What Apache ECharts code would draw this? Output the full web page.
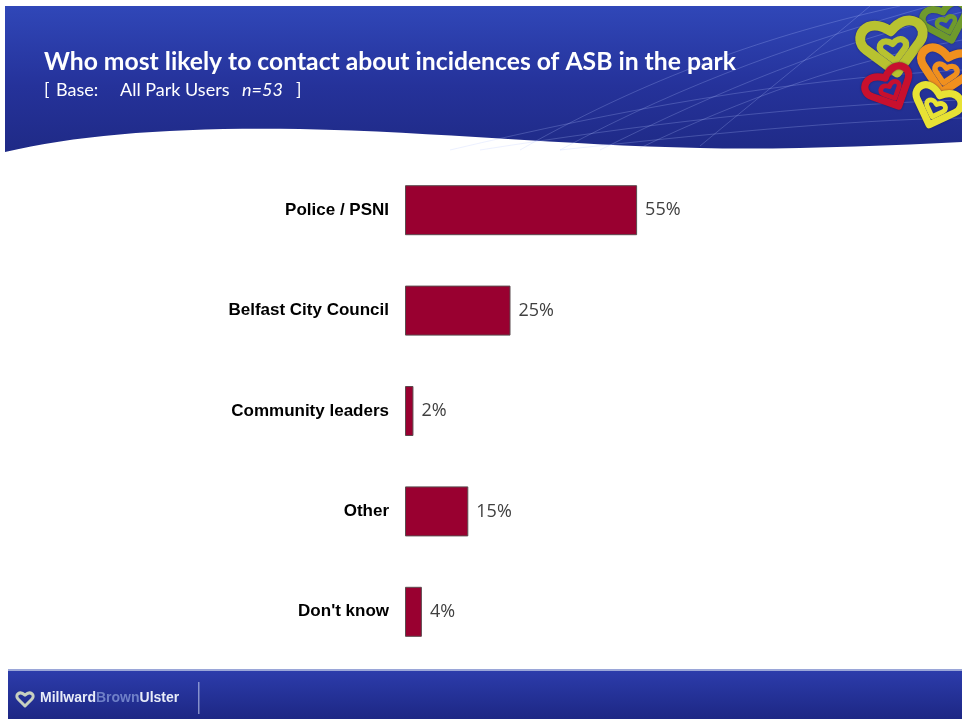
<!DOCTYPE html>
<html>
<head>
<meta charset="utf-8">
<script src="https://cdn.jsdelivr.net/npm/echarts@6/dist/echarts.min.js"></script>
<style>
  html, body { margin: 0; padding: 0; background: #ffffff; }
  #chart { width: 962px; height: 719px; }
</style>
</head>
<body>
<div id="chart"></div>
<script>
// Survey answers: who park users would contact about anti-social behaviour
const categories = ['Police / PSNI', 'Belfast City Council', 'Community leaders', 'Other', "Don't know"];
const shares = [55, 25, 2, 15, 4];

const titleText = 'Who most likely to contact about incidences of ASB in the park';
const baseLabel = 'Base:';
const baseGroup = 'All Park Users';
const baseN = 'n=53';

// simple command-list path shape (M / L / C / Z)
echarts.graphic.registerShape('cmdPath', echarts.graphic.extendShape({
  shape: { cmds: [] },
  buildPath: function (ctx, shape) {
    shape.cmds.forEach(function (c) {
      if (c[0] === 'M') ctx.moveTo(c[1], c[2]);
      else if (c[0] === 'L') ctx.lineTo(c[1], c[2]);
      else if (c[0] === 'C') ctx.bezierCurveTo(c[1], c[2], c[3], c[4], c[5], c[6]);
      else if (c[0] === 'Z') ctx.closePath();
    });
  }
}));

const chart = echarts.init(document.getElementById('chart'), null, { renderer: 'canvas' });

// heart outline used in the corner emblem
function heartCmds(cx, cy, s) {
  return [
    ['M', cx, cy + s],
    ['L', cx - s, cy],
    ['C', cx - s * 1.5, cy - s * 0.5, cx - s * 0.8, cy - s * 1.3, cx, cy - s * 0.55],
    ['C', cx + s * 0.8, cy - s * 1.3, cx + s * 1.5, cy - s * 0.5, cx + s, cy],
    ['Z']
  ];
}
function heart(cx, cy, s, color, rot, z) {
  return {
    type: 'group', x: cx, y: cy, rotation: rot || 0,
    children: [
      { type: 'cmdPath', z: z, shape: { cmds: heartCmds(0, 0, s) },
        style: { fill: null, stroke: color, lineWidth: s * 0.36, lineJoin: 'round',
                 shadowColor: 'rgba(20,20,60,0.6)', shadowBlur: 2 } },
      { type: 'cmdPath', z: z, shape: { cmds: heartCmds(0, s * 0.15, s * 0.42) },
        style: { fill: null, stroke: color, lineWidth: s * 0.24, lineJoin: 'round' } }
    ]
  };
}

// swooping light strands across the banner
const strands = [];
const strandDefs = [
  [520, 150, 660, 70, 790, 30, 900, 6],
  [560, 150, 690, 80, 810, 40, 930, 6],
  [600, 150, 720, 90, 830, 45, 962, 12],
  [640, 148, 740, 100, 850, 60, 962, 40],
  [480, 150, 640, 125, 800, 105, 962, 100],
  [560, 150, 700, 135, 840, 120, 962, 118],
  [700, 146, 780, 80, 830, 40, 870, 6],
  [450, 150, 620, 110, 780, 80, 962, 70]
];
strandDefs.forEach(function (d) {
  strands.push({
    type: 'bezierCurve', z: 2,
    shape: { x1: d[0], y1: d[1], cpx1: d[2], cpy1: d[3], cpx2: d[4], cpy2: d[5], x2: d[6], y2: d[7] },
    style: { stroke: 'rgba(180,195,255,0.25)', lineWidth: 1, fill: null }
  });
});

const white = '#ffffff';
const subFont = '18px Lato, sans-serif';

const option = {
  backgroundColor: '#ffffff',
  animation: false,
  graphic: [
    // banner
    {
      type: 'cmdPath', z: 1,
      shape: { cmds: [
        ['M', 5, 6], ['L', 962, 6], ['L', 962, 142],
        ['C', 880, 146, 780, 150, 700, 148],
        ['C', 560, 145, 440, 132, 300, 129],
        ['C', 180, 127, 80, 134, 5, 152], ['Z']
      ] },
      style: {
        fill: new echarts.graphic.LinearGradient(0, 0, 0, 1, [
          { offset: 0, color: '#3047b8' },
          { offset: 0.55, color: '#25329a' },
          { offset: 1, color: '#1f2a86' }
        ])
      }
    },
    // corner emblem clip: keep it inside the banner
    {
      type: 'group', x: 0, y: 0,
      children: []
    }
  ].concat(strands).concat([
    heart(946, 22, 19, '#6f9a2c', 0.3, 5),
    heart(893, 46, 27, '#b8c230', 0.15, 6),
    heart(946, 70, 23, '#f0901e', -0.2, 7),
    heart(890, 88, 20, '#c8102e', 0.45, 8),
    heart(936, 106, 20, '#e8e234', -0.35, 9),
    {
      type: 'rect', z: 10,
      shape: { x: 820, y: 0, width: 142, height: 6 },
      style: { fill: '#ffffff' }
    },
    {
      type: 'text', x: 44, y: 62, z: 10,
      style: { text: titleText, fill: white, font: 'bold 24.7px Lato, sans-serif', verticalAlign: 'middle' }
    },
    { type: 'text', x: 44, y: 90, z: 10, style: { text: '[', fill: white, font: subFont, verticalAlign: 'middle' } },
    { type: 'text', x: 56, y: 90, z: 10, style: { text: baseLabel, fill: white, font: subFont, verticalAlign: 'middle' } },
    { type: 'text', x: 120, y: 90, z: 10, style: { text: baseGroup, fill: white, font: subFont, verticalAlign: 'middle' } },
    { type: 'text', x: 242, y: 90, z: 10, style: { text: baseN, fill: white, font: 'italic ' + subFont, verticalAlign: 'middle' } },
    { type: 'text', x: 296, y: 90, z: 10, style: { text: ']', fill: white, font: subFont, verticalAlign: 'middle' } },
    // footer bar
    {
      type: 'rect', z: 1,
      shape: { x: 8, y: 669, width: 954, height: 2 },
      style: { fill: '#9aa6d8' }
    },
    {
      type: 'rect', z: 1,
      shape: { x: 8, y: 671, width: 954, height: 48 },
      style: {
        fill: new echarts.graphic.LinearGradient(0, 0, 0, 1, [
          { offset: 0, color: '#2c3cab' },
          { offset: 1, color: '#1d2784' }
        ])
      }
    },
    {
      type: 'rect', z: 2,
      shape: { x: 198, y: 682, width: 1.5, height: 32 },
      style: { fill: 'rgba(200,210,240,0.6)' }
    },
    {
      type: 'cmdPath', z: 3,
      shape: { cmds: heartCmds(25, 699, 7) },
      style: { fill: null, stroke: '#c8d0c0', lineWidth: 3, lineJoin: 'round' }
    },
    {
      type: 'text', x: 40, y: 698, z: 3,
      style: {
        text: '{a|Millward}{b|Brown}{a|Ulster}', verticalAlign: 'middle',
        rich: {
          a: { fontFamily: 'Liberation Sans', fontWeight: 'bold', fontSize: 14, fill: '#e8ecf8' },
          b: { fontFamily: 'Liberation Sans', fontWeight: 'bold', fontSize: 14, fill: '#6f80c8' }
        }
      }
    }
  ]),
  grid: { left: 405, top: 160, width: 422, height: 502, containLabel: false },
  xAxis: {
    type: 'value', min: 0, max: 100, show: false
  },
  yAxis: {
    type: 'category', data: categories, inverse: true,
    axisLine: { show: false }, axisTick: { show: false }, splitLine: { show: false },
    axisLabel: {
      margin: 16, color: '#000000', fontWeight: 'bold', fontSize: 17,
      fontFamily: '"Liberation Sans", Arial, sans-serif'
    }
  },
  series: [{
    type: 'bar', data: shares, barWidth: 50,
    itemStyle: { color: '#990030', borderColor: '#5a4a4e', borderWidth: 1 },
    label: {
      show: true, position: 'right', distance: 8, formatter: '{c}%',
      color: '#404040', fontSize: 18, fontFamily: '"Open Sans", sans-serif'
    }
  }]
};

chart.setOption(option);
</script>
</body>
</html>
